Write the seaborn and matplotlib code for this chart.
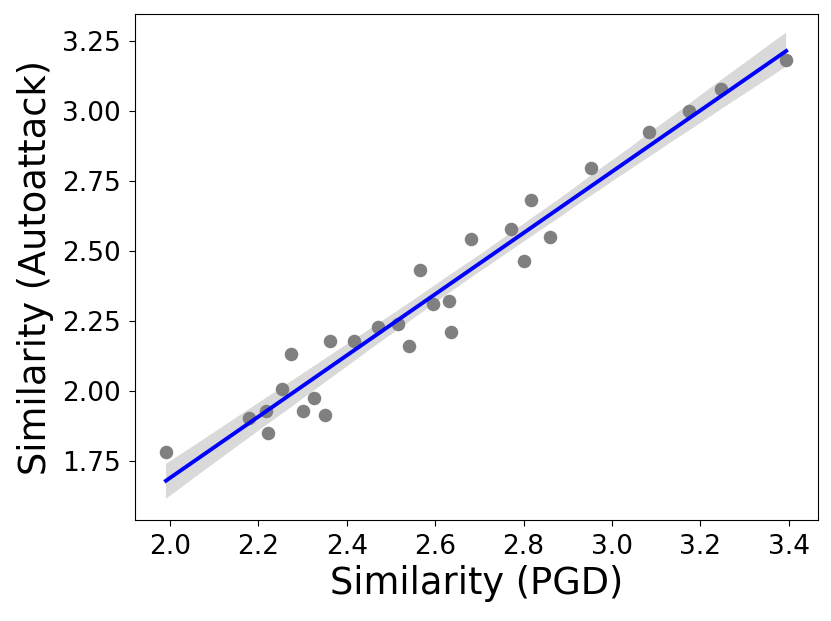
import numpy as np
import matplotlib
matplotlib.use("Agg")
import matplotlib.pyplot as plt
import seaborn as sns

# similarity scores
sim_pgd = [1.991, 2.179, 2.217, 2.222, 2.253, 2.274, 2.301, 2.326, 2.351, 2.362,
           2.416, 2.471, 2.516, 2.541, 2.566, 2.595, 2.631, 2.636, 2.681, 2.771,
           2.801, 2.817, 2.860, 2.952, 3.084, 3.174, 3.247, 3.394]
sim_autoattack = [1.782, 1.904, 1.929, 1.850, 2.007, 2.132, 1.929, 1.975, 1.914, 2.179,
                  2.179, 2.229, 2.239, 2.161, 2.432, 2.311, 2.321, 2.211, 2.543, 2.579,
                  2.465, 2.682, 2.550, 2.796, 2.925, 3.000, 3.079, 3.182]
x_ticks = [2.0, 2.2, 2.4, 2.6, 2.8, 3.0, 3.2, 3.4]
y_ticks = [1.75, 2.00, 2.25, 2.50, 2.75, 3.00, 3.25]

fig = plt.figure(figsize=(8.31, 6.21), dpi=100)
ax = fig.add_axes([135/831, 1 - 520/621, (818-135)/831, (520-14)/621])

# band follows the line colour, so draw in black (gray band) and recolour the line
sns.regplot(x=np.array(sim_pgd), y=np.array(sim_autoattack), ax=ax, ci=95, seed=0,
            color="black",
            scatter_kws={"color": "gray", "s": 95, "alpha": 1, "linewidths": 0,
                         "zorder": 1.5},
            line_kws={"lw": 2.8})
ax.lines[-1].set_color("blue")

ax.set_xlim(1.921, 3.466)
ax.set_ylim(1.539, 3.346)
ax.set_xticks(x_ticks)
ax.set_yticks(y_ticks)
ax.set_xticklabels(["%.1f" % t for t in x_ticks])
ax.set_yticklabels(["%.2f" % t for t in y_ticks])
ax.tick_params(labelsize=19, length=4.5, pad=5.5)
ax.set_xlabel("Similarity (PGD)", fontsize=26.5, labelpad=4)
ax.set_ylabel("Similarity (Autoattack)", fontsize=26.5, labelpad=6)

fig.savefig("out.png", dpi=100)
